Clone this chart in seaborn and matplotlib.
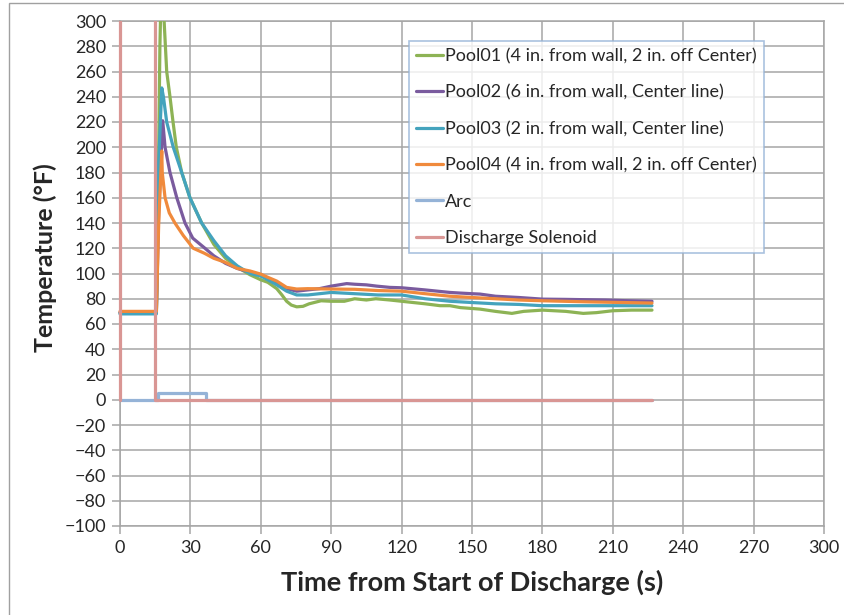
import numpy as np
import pandas as pd
import matplotlib
matplotlib.use("Agg")
import matplotlib.pyplot as plt
import seaborn as sns
from matplotlib.patches import Rectangle

# series: (time s, temperature F)
pool01_t = [0, 15.5, 16.2, 17.0, 17.6, 18.2, 18.8, 19.9, 21.3, 22.6, 24, 26.3, 29.8, 34.8, 40, 45, 50, 55.4, 60,
            63, 66.8, 69, 71, 73, 75.3, 78, 80.6, 85.7, 90, 95.6, 100, 105, 109, 115, 120, 125, 130, 136.4,
            140.6, 145, 153.4, 160, 167, 172, 180, 190, 197.4, 203, 210, 218, 226.7]
pool01_v = [69, 69, 150, 280, 330, 320, 300, 260, 240, 220, 200, 180, 160, 140, 123, 112, 105, 99, 95,
            93, 88, 83, 78, 75, 73.6, 74, 76, 78.4, 78, 78, 80, 79, 80, 79, 78, 77, 76, 74.5,
            74.5, 73, 71.8, 70, 68.4, 70, 71, 70, 68.4, 69, 70.5, 71, 71]

pool02_t = [0, 15.5, 16.5, 18.2, 19.2, 21.3, 24.2, 27.7, 31, 36.2, 40, 45, 50, 55.4, 60, 63, 66.8, 71, 75.3,
            80, 85, 90, 96.6, 100, 105, 109.4, 115, 120, 130, 140.6, 145, 150, 153.4, 160, 170, 180, 190,
            207, 215, 226.7]
pool02_v = [69, 69, 150, 221, 200, 180, 160, 140, 128, 120, 114, 108, 104, 101, 99, 96, 92, 88, 86,
            87, 88, 90, 92, 91.5, 91, 90, 89, 88.7, 87, 85, 84.5, 84, 83.7, 82, 81, 79.7, 79.5,
            79, 78.5, 78]

pool03_t = [0, 15.5, 16.3, 17.8, 18.5, 19.9, 22.7, 26.3, 29.8, 34.8, 40, 45, 50, 55.4, 60, 63, 66.8, 71,
            75.3, 80, 85, 90, 100, 110, 120, 130, 140.6, 150, 160, 170, 180, 200, 226.7]
pool03_v = [68, 68, 180, 247, 240, 220, 200, 180, 160, 140, 126, 114, 106, 100, 98, 95, 91, 86,
            83, 83, 84, 85, 84, 83, 83, 80, 78, 77, 76, 75.5, 74.5, 74.5, 74.5]

pool04_t = [0, 15.5, 16.5, 17.8, 18.0, 19.2, 21, 23.4, 27, 31.2, 36, 40, 44.7, 50, 55.4, 60, 63, 66.8, 71,
            75.3, 80, 90, 100, 110, 120, 130, 140.6, 150, 160, 170, 180, 200, 226.7]
pool04_v = [70, 70, 140, 197, 180, 160, 148, 140, 130, 120, 116, 112, 109, 104, 102, 99.5, 97, 94, 89,
            87.7, 88, 87.7, 87.5, 86.5, 86, 84, 82, 81, 80, 79, 78.4, 77.5, 76.6]

arc_t = [0, 16.2, 16.2, 36.5, 36.5, 226.7]
arc_v = [0, 0, 5, 5, 0, 0]

solenoid_t = [0, 0, 14.9, 14.9, 226.7]
solenoid_v = [0, 1000, 1000, 0, 0]

names = ["Pool01 (4 in. from wall, 2 in. off Center)",
         "Pool02 (6 in. from wall, Center line)",
         "Pool03 (2 in. from wall, Center line)",
         "Pool04 (4 in. from wall, 2 in. off Center)",
         "Arc",
         "Discharge Solenoid"]
colors = ["#8DB355", "#7A5B9E", "#44A3BD", "#F08A3C", "#95B3D7", "#D99694"]

series = [(pool01_t, pool01_v), (pool02_t, pool02_v), (pool03_t, pool03_v),
          (pool04_t, pool04_v), (arc_t, arc_v), (solenoid_t, solenoid_v)]
frames = []
for name, (t, v) in zip(names, series):
    f = pd.DataFrame({"Time": t, "Temp": v})
    f["Series"] = name
    frames.append(f)
df = pd.concat(frames, ignore_index=True)

sns.set_style("white")
plt.rcParams["font.family"] = ["Lato", "DejaVu Sans"]

fig = plt.figure(figsize=(8.44, 6.15), dpi=100)
ax = fig.add_axes([120 / 844, 1 - 526 / 615, 704 / 844, 505 / 615])

sns.lineplot(data=df, x="Time", y="Temp", hue="Series", hue_order=names, palette=colors,
             sort=False, estimator=None, units="Series", linewidth=2.3, ax=ax, legend=True)

# let the lines sit on top of the spines and show the t=0 solenoid edge fully
clip = Rectangle((-0.01, 0), 1.02, 1, transform=ax.transAxes)
for line in ax.get_lines():
    line.set_zorder(3)
    line.set_clip_path(clip)

ax.set_xlim(0, 300)
ax.set_ylim(-100, 300)
ax.set_xticks(np.arange(0, 301, 30))
ax.set_yticks(np.arange(-100, 301, 20))
ax.grid(True, color="#A6A6A6", linewidth=1.1)
ax.set_axisbelow(True)
for s in ax.spines.values():
    s.set_color("#A6A6A6")
    s.set_linewidth(1.1)
ax.tick_params(axis="both", labelsize=13, color="#A6A6A6", length=6, width=1.1, direction="out",
               left=True, bottom=True, pad=4)
ax.set_xlabel("Time from Start of Discharge (s)", fontsize=19.5, fontweight="bold")
ax.set_ylabel("Temperature (°F)", fontsize=18, fontweight="bold")
ax.xaxis.set_label_coords(0.5, -(582 - 526) / 505)
ax.yaxis.set_label_coords(-(120 - 45) / 704, (526 - 258) / 505)
ax.xaxis.label.set_va("center")
ax.yaxis.label.set_va("center")

leg = ax.legend(loc="upper left", bbox_to_anchor=((409 - 120) / 704, (526 - 41) / 505),
                fontsize=13, frameon=True, fancybox=False, handlelength=1.5, handletextpad=0.1,
                labelspacing=1.12, borderpad=0.4, borderaxespad=0)
leg.get_frame().set_edgecolor("#95B3D7")
leg.get_frame().set_linewidth(1.2)
leg.set_zorder(5)
for line in leg.get_lines():
    line.set_linewidth(2.3)

fig.patches.append(Rectangle((9 / 844, -0.1), 1.2, 1 - 3 / 615 + 0.1, transform=fig.transFigure,
                             fill=False, edgecolor="#A0A0A0", linewidth=1))

fig.savefig("out.png", dpi=100)
